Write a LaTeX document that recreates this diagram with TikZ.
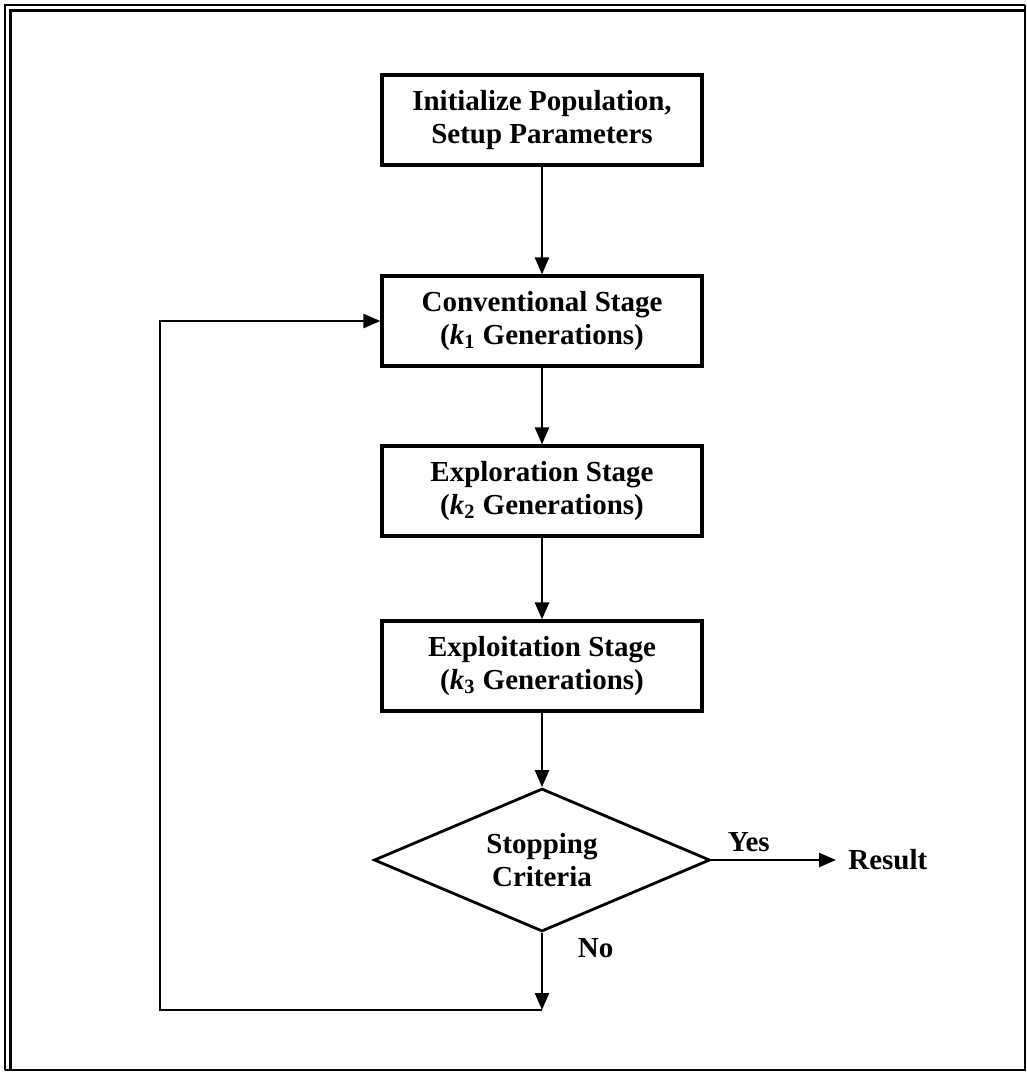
\documentclass[tikz,border=0pt]{standalone}
\usepackage{fontspec}
\setmainfont{Liberation Serif}
\usetikzlibrary{shapes.geometric,arrows.meta}

\tikzset{
  caja/.style={draw, line width=1.6pt, minimum width=160pt, minimum height=45pt,
    align=center, font=\bfseries\fontsize{14.5}{16.5}\selectfont},
  decision/.style={draw, diamond, aspect=2.35, line width=1.4pt, minimum width=168pt, minimum height=71.5pt,
    inner sep=0pt, align=center, font=\bfseries\fontsize{14.5}{16.5}\selectfont},
  etiqueta/.style={font=\bfseries\fontsize{14.5}{16.5}\selectfont},
  flecha/.style={line width=1.2pt, -{Triangle[width=7pt,length=8.5pt]}}
}

\begin{document}
\begin{tikzpicture}[x=0.5pt, y=-0.5pt]
        \useasboundingbox (0,0) rectangle (1027,1073);

        % Marco
        \draw[line width=1.5pt] (10,1070) -- (10,10) -- (1025,10);
        \draw[line width=0.6pt] (5,1070) -- (5,5) -- (1025,5);
        \draw[line width=0.8pt] (1025,5) -- (1025,1070) -- (5,1070);

        % Cajas
        \node[caja] (init) at (542,120) {Initialize Population,\\Setup Parameters};
        \node[caja] (conv) at (542,321) {Conventional Stage\\(\textit{k}\textsubscript{1} Generations)};
        \node[caja] (explor) at (542,491) {Exploration Stage\\(\textit{k}\textsubscript{2} Generations)};
        \node[caja] (explot) at (542,666) {Exploitation Stage\\(\textit{k}\textsubscript{3} Generations)};

        % Decision
        \node[decision] (parada) at (542,860) {Stopping\\Criteria};
        \node[etiqueta, anchor=west, inner sep=6pt] (res) at (836,860) {Result};

        % Flechas
        \draw[flecha] (init) -- (conv);
        \draw[flecha] (conv) -- (explor);
        \draw[flecha] (explor) -- (explot);
        \draw[flecha] (explot) -- (parada);
        \draw[flecha] (parada.east) -- (res.west) node[etiqueta, pos=0.3, above] (si) {Yes};

        % Lazo de regreso
        \coordinate (esq) at (542,1010);
        \coordinate (izq) at (160,1010);
        \draw[flecha] (parada.south) -- (esq) node[etiqueta, pos=0.2, right=14pt] (no) {No};
        \draw[flecha] (esq) -- (izq) |- (conv.west);
    \end{tikzpicture}
\end{document}
